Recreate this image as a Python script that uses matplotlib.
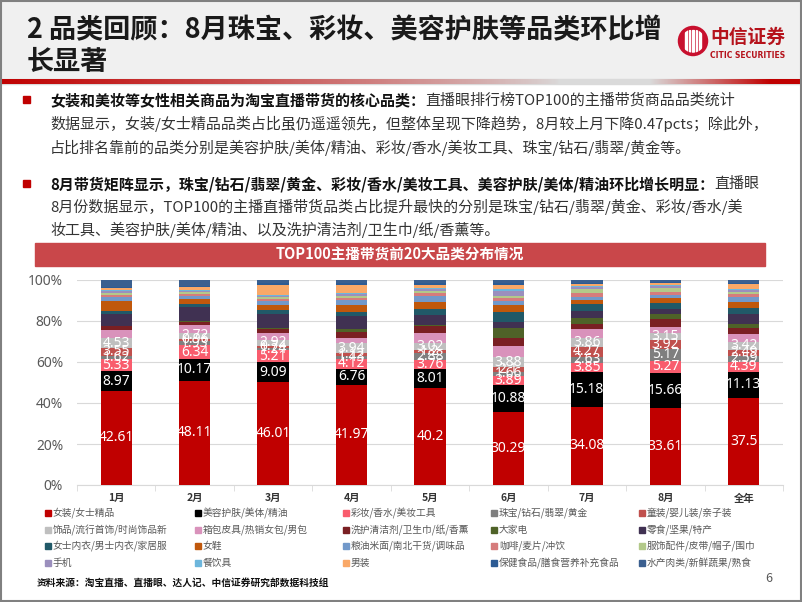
import numpy as np
import matplotlib.pyplot as plt
from matplotlib.patches import Rectangle, Circle
import matplotlib.colors as mcolors

plt.rcParams['font.family'] = ['Noto Sans CJK SC', 'DejaVu Sans']

# categories (x axis)
months = ['1月', '2月', '3月', '4月', '5月', '6月', '7月', '8月', '全年']

# series names in stacking order (bottom -> top)
categories = ['女装/女士精品', '美容护肤/美体/精油', '彩妆/香水/美妆工具', '珠宝/钻石/翡翠/黄金', '童装/婴儿装/亲子装',
              '饰品/流行首饰/时尚饰品新', '箱包皮具/热销女包/男包', '洗护清洁剂/卫生巾/纸/香薰', '大家电', '零食/坚果/特产',
              '女士内衣/男士内衣/家居服', '女鞋', '粮油米面/南北干货/调味品', '咖啡/麦片/冲饮', '服饰配件/皮带/帽子/围巾',
              '手机', '餐饮具', '男装', '保健食品/膳食营养补充食品', '水产肉类/新鲜蔬果/熟食']
colors = ['#C00000', '#000000', '#F95C6D', '#7F7F7F', '#C0504D',
          '#BFBFBF', '#D992BB', '#7A1F23', '#4F6228', '#403152',
          '#215968', '#C0580C', '#7299CA', '#D67C7C', '#B3C98A',
          '#9B8FBD', '#6DB6DC', '#F9A867', '#2C5B94', '#3A5F8F']

# share values (%) per month
women = [42.61, 48.11, 46.01, 41.97, 40.2, 30.29, 34.08, 33.61, 37.5]
beauty = [8.97, 10.17, 9.09, 6.76, 8.01, 10.88, 15.18, 15.66, 11.13]
makeup = [5.33, 6.34, 5.21, 4.12, 3.76, 3.89, 3.85, 5.27, 4.39]
jewelry = [1.62, 1.93, 1.24, 1.43, 2.88, 1.66, 2.63, 5.17, 2.59]
kids = [3.55, 0.96, 0.74, 1.12, 1.2, 2.1, 4.27, 3.92, 2.49]
ornament = [4.53, 2.72, 2.92, 3.94, 3.02, 3.88, 3.86, 3.15, 3.42]
bags = [3.8, 3.6, 2.8, 2.4, 4.0, 4.6, 4.0, 2.5, 3.6]
cleaning = [1.5, 1.5, 1.8, 2.3, 3.0, 3.5, 2.0, 3.3, 2.4]
appliance = [0.3, 0.4, 0.5, 1.4, 0.4, 4.2, 2.8, 2.5, 1.8]
snacks = [5.5, 6.5, 6.5, 5.2, 4.2, 2.4, 2.8, 2.3, 4.3]
underwear = [1.0, 1.5, 1.5, 2.0, 2.5, 4.2, 3.3, 2.5, 2.5]
shoes = [4.5, 2.2, 2.3, 2.8, 2.8, 2.8, 1.6, 1.9, 2.4]
grain = [2.0, 1.5, 2.0, 2.0, 2.5, 1.8, 1.6, 1.4, 2.2]
coffee = [1.0, 1.0, 1.0, 1.0, 1.2, 1.2, 1.4, 1.4, 1.2]
clothing_acc = [1.0, 0.8, 0.6, 0.8, 0.8, 0.8, 1.8, 1.7, 1.0]
phone = [0.5, 0.6, 0.6, 0.8, 0.8, 2.0, 0.8, 1.0, 1.0]
tableware = [0.5, 0.5, 0.5, 0.5, 0.5, 0.6, 0.5, 0.5, 0.5]
menswear = [1.2, 1.0, 4.5, 3.5, 1.5, 2.0, 0.8, 0.6, 1.8]
health = [0.5, 0.6, 0.6, 0.5, 0.5, 0.5, 0.5, 0.5, 0.5]
fresh = [3.0, 2.8, 1.5, 1.4, 1.4, 1.4, 1.4, 1.0, 1.4]

series = [women, beauty, makeup, jewelry, kids, ornament, bags, cleaning, appliance, snacks,
          underwear, shoes, grain, coffee, clothing_acc, phone, tableware, menswear, health, fresh]
n_labeled = 6  # first six series carry data labels

fig = plt.figure(figsize=(8.02, 6.02), dpi=100)

# full-figure layer in pixel coordinates for the slide decoration
bg = fig.add_axes([0, 0, 1, 1])
bg.axis('off')

bg.add_patch(Rectangle((0, 0), 802, 79, color='#F0F0F0', zorder=0))
# red gradient rule under the header
xs = np.linspace(0, 802, 802)
alpha = np.clip(1 - xs / 560, 0, 1) ** 0.8 + np.clip((xs - 650) / 120, 0, 1)
alpha = np.clip(alpha, 0, 1)
rgba = np.zeros((1, 802, 4))
rgba[0, :, :3] = mcolors.to_rgb('#C00000')
rgba[0, :, 3] = alpha
bg.add_patch(Rectangle((0, 79), 802, 5, color='#DADADA', zorder=1))
bg.imshow(rgba, extent=[0, 802, 84, 79], aspect='auto', zorder=2)
bg.set_xlim(0, 802)
bg.set_ylim(602, 0)

# slide border
bg.add_patch(Rectangle((1, 1), 800, 600, fill=False, edgecolor='#808080', lw=1.5, zorder=5))

# title
bg.text(27, 30, '2 品类回顾：8月珠宝、彩妆、美容护肤等品类环比增', fontsize=19.5, fontweight='bold',
        va='center', ha='left', color='#1A1A1A')
bg.text(27, 62, '长显著', fontsize=19.5, fontweight='bold', va='center', ha='left', color='#1A1A1A')

# logo
bg.add_patch(Circle((693, 41), 13.5, color='#C8102E', zorder=3))
for dx in [-7, -3.5, 0, 3.5, 7]:
    bg.add_patch(Rectangle((693 + dx - 0.9, 30), 1.8, 22, color='white', zorder=4))
bg.add_patch(Circle((693, 41), 13.5, fill=False, edgecolor='#C8102E', lw=2.5, zorder=4))
bg.text(710, 37, '中信证券', fontsize=13.5, fontweight='bold', color='#B5121B', va='center', ha='left')
bg.text(710, 55, 'CITIC SECURITIES', fontsize=5.5, fontweight='bold', color='#B5121B', va='center', ha='left',
        family='DejaVu Sans')

renderer = fig.canvas.get_renderer()


def mixed_line(x, y, bold_txt, reg_txt, size=10.8):
    x_next = x
    if bold_txt:
        t = bg.text(x, y, bold_txt, fontsize=size, fontweight='bold', color='#111111', va='center', ha='left')
        x_next = t.get_window_extent(renderer).x1
    if reg_txt:
        bg.text(x_next, y, reg_txt, fontsize=size, color='#333333', va='center', ha='left')


bg.add_patch(Rectangle((23, 96), 7, 7, color='#C00000'))
mixed_line(50, 100, '女装和美妆等女性相关商品为淘宝直播带货的核心品类：', '直播眼排行榜TOP100的主播带货商品品类统计')
mixed_line(50, 124, '', '数据显示，女装/女士精品品类占比虽仍遥遥领先，但整体呈现下降趋势，8月较上月下降0.47pcts；除此外，')
mixed_line(50, 148, '', '占比排名靠前的品类分别是美容护肤/美体/精油、彩妆/香水/美妆工具、珠宝/钻石/翡翠/黄金等。')

bg.add_patch(Rectangle((23, 180), 7, 7, color='#C00000'))
mixed_line(50, 184, '8月带货矩阵显示，珠宝/钻石/翡翠/黄金、彩妆/香水/美妆工具、美容护肤/美体/精油环比增长明显：', '直播眼')
mixed_line(50, 207, '', '8月份数据显示，TOP100的主播直播带货品类占比提升最快的分别是珠宝/钻石/翡翠/黄金、彩妆/香水/美')
mixed_line(50, 230, '', '妆工具、美容护肤/美体/精油、以及洗护清洁剂/卫生巾/纸/香薰等。')

# chart title bar
bg.add_patch(Rectangle((35, 243), 730, 23, color='#C9474A'))
bg.text(400, 254.5, 'TOP100主播带货前20大品类分布情况', fontsize=10.5, fontweight='bold', color='white',
        ha='center', va='center')

# legend (row-major, 5 columns)
col_x = [45, 195, 343, 491, 639]
row_y = [513, 530, 546, 563]
for i, (name, c) in enumerate(zip(categories, colors)):
    r, k = divmod(i, 5)
    bg.add_patch(Rectangle((col_x[k], row_y[r] - 3), 6, 6, color=c))
    bg.text(col_x[k] + 8, row_y[r], name, fontsize=7, color='#595959', va='center', ha='left')

bg.text(37, 583, '资料来源：淘宝直播、直播眼、达人记、中信证券研究部数据科技组', fontsize=7, fontweight='bold',
        color='#111111', va='center', ha='left')
bg.text(765, 578, '6', fontsize=9, color='#595959', va='center', ha='left')

# stacked 100% bar chart
ax = fig.add_axes([77 / 802, (602 - 485) / 602, 706 / 802, 205 / 602])
data = np.array(series, dtype=float)
shares = data / data.sum(axis=0) * 100
x = np.arange(len(months))
bottom = np.zeros(len(months))
for i in range(len(series)):
    ax.bar(x, shares[i], width=0.4, bottom=bottom, color=colors[i], zorder=3)
    if i < n_labeled:
        for j in range(len(months)):
            ax.text(x[j], bottom[j] + shares[i][j] / 2, f'{series[i][j]:g}', color='white', fontsize=10,
                    ha='center', va='center', family='Noto Sans', zorder=4)
    bottom += shares[i]

ax.set_xlim(-0.5, len(months) - 0.5)
ax.set_ylim(0, 100)
ax.set_yticks(range(0, 101, 20))
ax.set_yticklabels([f'{v}%' for v in range(0, 101, 20)], fontsize=10, color='#595959', family='Noto Sans')
ax.set_xticks(x)
ax.set_xticklabels(months, fontsize=7.5, fontweight='bold', color='#333333')
ax.set_xticks(np.arange(-0.5, len(months)), minor=True)
ax.tick_params(axis='x', which='major', length=0, pad=6)
ax.tick_params(axis='x', which='minor', length=4, color='#D9D9D9')
ax.tick_params(axis='y', length=0, pad=10)
ax.grid(axis='y', color='#D9D9D9', lw=0.8, zorder=0)
for s in ['top', 'right', 'left']:
    ax.spines[s].set_visible(False)
ax.spines['bottom'].set_color('#D9D9D9')
ax.patch.set_alpha(0)

fig.savefig('out.png', dpi=100)
